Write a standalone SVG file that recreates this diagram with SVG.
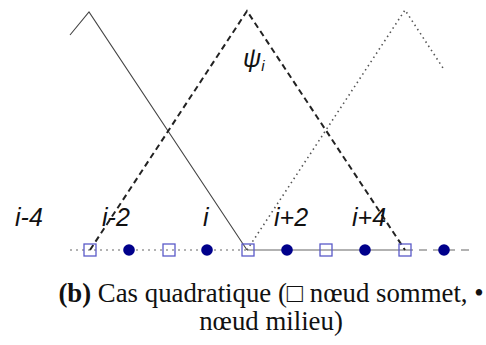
<svg xmlns="http://www.w3.org/2000/svg" width="486" height="345" viewBox="0 0 486 345">
<style>
.lbl{font-family:"Liberation Sans",Arial,sans-serif;font-style:italic;font-size:25px;fill:#111}
.cap{font-family:"Liberation Serif","Times New Roman",serif;font-size:26.8px;fill:#111}
.sq{fill:none;stroke:#5a5ac8;stroke-width:1.3}
.dot{fill:#00008b}
</style>
<rect width="486" height="345" fill="#fff"/>
<g id="connectors">
<line x1="70" y1="250" x2="247" y2="250" stroke="#999" stroke-width="1.6" stroke-dasharray="2 4"/>
<line x1="247" y1="250" x2="405" y2="250" stroke="#999" stroke-width="1.6"/>
<line x1="405" y1="250" x2="472" y2="250" stroke="#999" stroke-width="1.6" stroke-dasharray="8 6"/>
<polyline points="70,35 89,12 247,250" fill="none" stroke="#444" stroke-width="1.1"/>
<polyline points="90,250 247,11 405,250" fill="none" stroke="#222" stroke-width="2" stroke-dasharray="6 4"/>
<polyline points="247,250 405,10 443,68" fill="none" stroke="#555" stroke-width="1.6" stroke-dasharray="1.5 3.5"/>
</g>
<g id="nodes">
<g id="n1"><rect class="sq" x="84" y="244" width="12" height="12"/></g>
<g id="n2"><circle class="dot" cx="129" cy="250" r="5.8"/></g>
<g id="n3"><rect class="sq" x="163" y="244" width="12" height="12"/></g>
<g id="n4"><circle class="dot" cx="207" cy="250" r="5.8"/></g>
<g id="n5"><rect class="sq" x="242" y="244" width="12" height="12"/></g>
<g id="n6"><circle class="dot" cx="287" cy="250" r="5.8"/></g>
<g id="n7"><rect class="sq" x="320" y="244" width="12" height="12"/></g>
<g id="n8"><circle class="dot" cx="365" cy="250" r="5.8"/></g>
<g id="n9"><rect class="sq" x="399" y="244" width="12" height="12"/></g>
<g id="n10"><circle class="dot" cx="444" cy="250" r="5.8"/></g>
</g>
<g id="labels">
<text class="lbl" x="15" y="226">i-4</text>
<text class="lbl" x="102" y="226">i-2</text>
<text class="lbl" x="203" y="226">i</text>
<text class="lbl" x="274" y="226">i+2</text>
<text class="lbl" x="352" y="226">i+4</text>
<text x="243" y="67" style="font-family:'Liberation Sans',Arial,sans-serif;font-style:italic;font-size:25px;fill:#111">ψ<tspan font-size="15" dy="4">i</tspan></text>
</g>
<g id="caption">
<text class="cap" x="271" y="302" text-anchor="middle"><tspan font-weight="bold">(b)</tspan> Cas quadratique (□ nœud sommet, •</text>
<text class="cap" x="271" y="330" text-anchor="middle">nœud milieu)</text>
</g>
</svg>
